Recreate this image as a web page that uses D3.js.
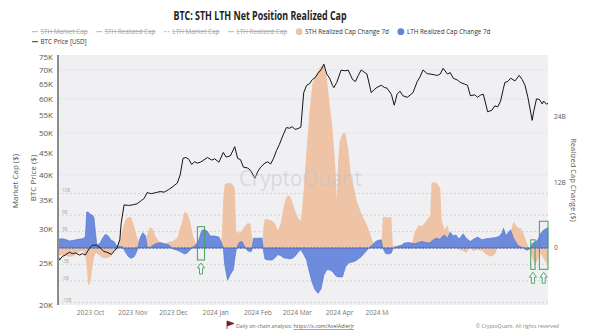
<!DOCTYPE html>
<html>
<head>
<meta charset="utf-8">
<title>BTC: STH LTH Net Position Realized Cap</title>
<script src="https://cdn.jsdelivr.net/npm/d3@7"></script>
<style>
  body { margin: 0; background: #fff; }
  svg text { font-family: "Open Sans", sans-serif; }
</style>
</head>
<body>
<script>
// BTC price (USD)
var priceDates = ["2023-09-10","2023-09-11","2023-09-13","2023-09-15","2023-09-18","2023-09-20","2023-09-22","2023-09-25","2023-09-27","2023-09-29",
  "2023-10-02","2023-10-04","2023-10-07","2023-10-10","2023-10-12","2023-10-14","2023-10-17","2023-10-19","2023-10-21","2023-10-23","2023-10-24","2023-10-26","2023-10-29",
  "2023-11-01","2023-11-04","2023-11-07","2023-11-09","2023-11-11","2023-11-14","2023-11-17","2023-11-20","2023-11-23","2023-11-26","2023-11-29",
  "2023-12-02","2023-12-04","2023-12-06","2023-12-08","2023-12-10","2023-12-12","2023-12-14","2023-12-16","2023-12-18","2023-12-20","2023-12-23","2023-12-26","2023-12-28","2023-12-31",
  "2024-01-03","2024-01-05","2024-01-08","2024-01-11","2024-01-13","2024-01-15","2024-01-17","2024-01-20","2024-01-22","2024-01-25","2024-01-27","2024-01-29",
  "2024-02-01","2024-02-03","2024-02-05","2024-02-07","2024-02-09","2024-02-11","2024-02-14","2024-02-16","2024-02-18","2024-02-20","2024-02-22","2024-02-24","2024-02-26","2024-02-28",
  "2024-03-01","2024-03-03","2024-03-05","2024-03-07","2024-03-09","2024-03-11","2024-03-13","2024-03-15","2024-03-17","2024-03-19","2024-03-20","2024-03-22","2024-03-25","2024-03-28","2024-03-30",
  "2024-04-02","2024-04-04","2024-04-06","2024-04-08","2024-04-10","2024-04-12","2024-04-15","2024-04-17","2024-04-19","2024-04-22","2024-04-24","2024-04-26","2024-04-29",
  "2024-05-01","2024-05-03","2024-05-05","2024-05-07","2024-05-10","2024-05-12","2024-05-14","2024-05-17","2024-05-19","2024-05-21","2024-05-24","2024-05-26","2024-05-29","2024-05-31",
  "2024-06-02","2024-06-04","2024-06-07","2024-06-09","2024-06-11","2024-06-14","2024-06-16","2024-06-19","2024-06-21","2024-06-23","2024-06-26","2024-06-28","2024-06-30",
  "2024-07-02","2024-07-05","2024-07-08","2024-07-10","2024-07-12","2024-07-14","2024-07-16","2024-07-17","2024-07-19","2024-07-21","2024-07-24","2024-07-27","2024-07-29","2024-07-31",
  "2024-08-02","2024-08-05","2024-08-06","2024-08-08","2024-08-10","2024-08-12","2024-08-13","2024-08-15","2024-08-16"];
var btcPrice = [26100,25400,25900,26100,26500,26300,26400,26100,26300,26100,
  27100,27500,27500,27000,26600,26500,26200,26600,27100,28300,31000,34100,34000,
  34100,34300,34900,35300,36400,36200,36400,36600,36500,37000,37600,
  38300,40000,43700,43900,43500,42300,42900,42600,42800,43200,43900,43300,43600,42800,
  45100,44000,44300,46500,43700,43400,41700,41500,41000,39300,40700,41700,
  42600,42900,42400,43700,45500,47000,49800,51500,51300,51700,51000,51200,51600,62000,
  64500,65000,66500,67200,68800,70000,72200,68500,67000,64500,63700,65500,69900,69700,69900,
  66500,65800,68000,70000,69200,68500,62000,63000,63800,64500,63800,63500,61500,
  58000,61500,62500,61000,60500,61200,62000,65800,67500,70000,68600,68500,68200,68000,
  68500,70600,68500,69000,67000,66300,65500,64900,64500,61000,61300,60500,61200,
  61500,56000,56500,57800,57500,59300,63500,65500,65800,67000,66000,68000,66500,64500,
  60500,53500,56000,60000,59800,58400,59300,58300,58600];

// 7d realized cap change, billions USD
var flowDates = ["2023-09-10","2023-09-13","2023-09-16","2023-09-18","2023-09-21","2023-09-24","2023-09-27","2023-09-29","2023-09-30",
  "2023-10-01","2023-10-02","2023-10-03","2023-10-04","2023-10-05","2023-10-06","2023-10-07","2023-10-09","2023-10-11","2023-10-13","2023-10-15","2023-10-17","2023-10-19","2023-10-21","2023-10-23","2023-10-25","2023-10-27","2023-10-29","2023-10-31",
  "2023-11-02","2023-11-04","2023-11-06","2023-11-08","2023-11-10","2023-11-11","2023-11-13","2023-11-15","2023-11-17","2023-11-20","2023-11-23","2023-11-26","2023-11-29",
  "2023-12-02","2023-12-05","2023-12-07","2023-12-09","2023-12-11","2023-12-13","2023-12-15","2023-12-17","2023-12-19","2023-12-21","2023-12-23","2023-12-25","2023-12-28","2023-12-31",
  "2024-01-02","2024-01-03","2024-01-04","2024-01-06","2024-01-08","2024-01-10","2024-01-11","2024-01-12","2024-01-14","2024-01-16","2024-01-18","2024-01-20","2024-01-22","2024-01-23","2024-01-24","2024-01-27","2024-01-30","2024-01-31",
  "2024-02-01","2024-02-03","2024-02-06","2024-02-08","2024-02-10","2024-02-12","2024-02-14","2024-02-16","2024-02-18","2024-02-20","2024-02-22","2024-02-24","2024-02-26","2024-02-28",
  "2024-03-01","2024-03-03","2024-03-05","2024-03-07","2024-03-09","2024-03-11","2024-03-13","2024-03-15","2024-03-17","2024-03-19","2024-03-21","2024-03-22","2024-03-23","2024-03-24","2024-03-26","2024-03-28","2024-03-30",
  "2024-04-01","2024-04-03","2024-04-05","2024-04-08","2024-04-10","2024-04-12","2024-04-14","2024-04-16","2024-04-18","2024-04-20","2024-04-22","2024-04-23","2024-04-25","2024-04-27","2024-04-29","2024-04-30",
  "2024-05-03","2024-05-06","2024-05-08","2024-05-11","2024-05-13","2024-05-15","2024-05-18","2024-05-20","2024-05-23","2024-05-26","2024-05-27","2024-05-30",
  "2024-06-02","2024-06-03","2024-06-05","2024-06-07","2024-06-09","2024-06-11","2024-06-13","2024-06-15","2024-06-18","2024-06-20","2024-06-23","2024-06-25","2024-06-28",
  "2024-07-01","2024-07-04","2024-07-07","2024-07-10","2024-07-13","2024-07-15","2024-07-16","2024-07-18","2024-07-19","2024-07-21","2024-07-23","2024-07-26","2024-07-28","2024-07-30",
  "2024-08-01","2024-08-03","2024-08-05","2024-08-07","2024-08-09","2024-08-11","2024-08-13","2024-08-15","2024-08-16"];
var sthChange = [-1.4,-1.3,-1.5,-1.6,-1.5,-0.8,-0.5,-1.2,-3.5,
  -6.8,-6.6,-5.5,-3.5,-1.8,-1.0,-1.0,-1.4,-1.8,-1.9,-1.8,-1.5,-0.6,0.2,1.5,3.5,5.2,5.7,5.6,
  4.0,2.0,0.5,0.3,0.5,2.5,3.8,3.5,2.0,1.0,0.8,1.1,1.3,
  1.9,4.5,6.6,6.4,4.8,2.2,0.8,0.5,0.4,0.6,0.8,0.5,0.6,0.5,
  2.0,9.0,11.6,11.9,11.9,11.5,11.0,3.0,2.8,3.2,4.0,4.6,4.4,2.0,0.2,0.2,0.2,4.0,
  5.3,5.2,5.0,4.5,3.2,4.5,7.5,9.4,9.6,8.5,6.8,5.5,5.0,10.6,
  18.0,25.0,30.0,31.5,32.6,33.2,33.5,31.3,26.5,22.0,15.0,8.8,16.0,19.5,21.0,21.0,18.0,
  13.0,11.0,8.5,6.4,5.3,4.2,2.8,1.2,0.4,0.3,0.2,5.7,5.7,5.6,5.7,0.5,
  0.3,0.4,0.3,0.4,0.5,2.7,4.2,4.0,4.8,6.0,12.0,12.0,
  11.0,5.1,3.4,4.2,2.0,1.0,0.2,-0.3,-0.5,-0.9,0.2,-0.6,-0.3,
  -0.5,-1.2,-1.6,-1.2,0.8,1.2,1.5,2.0,2.8,3.0,4.8,3.7,3.6,2.6,
  1.1,-0.3,-1.8,-3.1,-2.0,-1.0,-2.0,-2.8,-3.0];
var lthChange = [1.6,1.7,1.5,1.3,1.4,1.6,1.7,2.0,6.6,
  6.6,6.3,6.1,6.0,5.6,3.0,0.6,0.8,1.8,2.5,2.2,1.4,1.2,0.3,0.3,0.2,-0.8,-1.6,-1.9,
  -1.6,-0.5,1.8,2.8,2.2,0.2,0.1,0.5,0.8,1.0,0.8,0.6,-0.2,
  -0.4,-0.8,-1.1,-0.9,-0.3,0.2,0.6,1.5,3.2,3.4,3.0,2.2,2.2,2.0,
  0.8,0.1,-3.0,-5.9,-4.8,-4.0,-2.0,-0.3,1.0,1.2,0.2,-0.5,-0.7,-0.4,1.8,1.8,1.8,-0.5,
  -2.0,-2.2,-2.2,-1.8,-1.2,-1.4,-1.8,-1.9,-2.0,-1.9,-1.5,-0.8,-0.3,-1.2,
  -2.2,-4.5,-6.4,-7.7,-8.3,-7.5,-5.0,-4.0,-4.0,-4.3,-5.0,-5.2,-5.3,-5.3,-5.3,-3.5,-2.8,
  -2.6,-2.5,-2.2,-1.6,-1.0,-0.4,0.2,0.6,1.2,1.4,1.5,0.0,-1.0,-1.1,-0.9,-0.1,
  0.3,0.5,0.9,1.0,0.9,0.8,1.0,1.2,1.0,0.9,1.3,1.8,
  1.6,2.0,2.4,1.8,2.9,2.2,2.4,1.6,2.6,1.8,1.2,1.6,2.0,
  1.5,1.7,1.8,1.9,2.1,2.8,3.6,2.2,2.8,3.3,1.8,0.5,0.2,0.0,
  -0.4,-0.2,0.8,1.1,1.5,2.7,3.3,3.6,3.7];

var priceTicks = [20000,25000,30000,35000,40000,45000,50000,55000,60000,65000,70000,75000];
var priceGrid = [40000,50000,60000,70000];
var changeTicks = [0, 12, 24];
var guideTicks = [-10, -6, -3, 3, 6, 10];
var monthTicks = ["2023-10-01","2023-11-01","2023-12-01","2024-01-01","2024-02-01","2024-03-01","2024-04-01","2024-05-01","2024-06-01","2024-07-01","2024-08-01"];
var legendNames = ["STH Market Cap","STH Realized Cap","LTH Market Cap","LTH Realized Cap","STH Realized Cap Change 7d","LTH Realized Cap Change 7d","BTC Price [USD]"];
// green highlight boxes: date range and value range ($B)
var marked = [
  {from: "2023-12-16", to: "2023-12-21", hi: 3.9, lo: -2.2},
  {from: "2024-08-04", to: "2024-08-07", hi: 1.5, lo: -3.9},
  {from: "2024-08-10", to: "2024-08-16", hi: 4.9, lo: -3.9}
];

var width = 594, height = 332;
var plot = {left: 58, right: 548, top: 55, bottom: 305};
var parse = d3.timeParse("%Y-%m-%d");
var orange = "#efc4a6", blue = "#6283dc", green = "#43a063";

var svg = d3.select("body").append("svg")
  .attr("width", width)
  .attr("height", height);

var prices = priceDates.map(function(d, i) { return {date: parse(d), v: btcPrice[i]}; });
var flows = flowDates.map(function(d, i) { return {date: parse(d), sth: sthChange[i], lth: lthChange[i]}; });

var x = d3.scaleTime()
  .domain(d3.extent(flows, function(d) { return d.date; }))
  .range([plot.left, plot.right]);
// the month labels in the source sit on a slightly tighter spacing than the series
var xLabel = d3.scaleTime().domain(x.domain()).range([62, 526]);
var y = d3.scaleLog().domain([20000, 75800]).range([plot.bottom, plot.top]);
var y2 = d3.scaleLinear().domain([-10.44, 35.35]).range([plot.bottom, plot.top]);

function squeeze(sel, k) {
  sel.each(function() {
    var w = this.getComputedTextLength();
    d3.select(this).attr("textLength", w * k).attr("lengthAdjust", "spacingAndGlyphs");
  });
}

// plot background
svg.append("rect")
  .attr("x", plot.left).attr("y", plot.top)
  .attr("width", plot.right - plot.left).attr("height", plot.bottom - plot.top)
  .attr("fill", "#f0f0f3");

svg.append("g").selectAll("line")
  .data(priceGrid).enter().append("line")
  .attr("x1", plot.left).attr("x2", plot.right)
  .attr("y1", function(d) { return y(d); }).attr("y2", function(d) { return y(d); })
  .attr("stroke", "#e3e4e9").attr("stroke-width", 0.8);

// dashed guides for the change series
var guides = svg.append("g");
guides.selectAll("line")
  .data(guideTicks).enter().append("line")
  .attr("x1", plot.left).attr("x2", plot.right)
  .attr("y1", function(d) { return y2(d); }).attr("y2", function(d) { return y2(d); })
  .attr("stroke", "#c6c7cd").attr("stroke-width", 0.7)
  .attr("stroke-dasharray", "2,2");
guides.selectAll("text")
  .data(guideTicks).enter().append("text")
  .attr("x", 62)
  .attr("y", function(d) { return y2(d) - 1; })
  .attr("font-size", 4.5)
  .attr("fill", "#a8a8ae")
  .text(function(d) { return d + "B"; });

// areas
var sthArea = d3.area()
  .x(function(d) { return x(d.date); })
  .y0(y2(0))
  .y1(function(d) { return y2(d.sth); });
var lthArea = d3.area()
  .x(function(d) { return x(d.date); })
  .y0(y2(0))
  .y1(function(d) { return y2(d.lth); });

svg.append("path").datum(flows)
  .attr("d", sthArea)
  .attr("fill", orange);
svg.append("path").datum(flows)
  .attr("d", lthArea)
  .attr("fill", blue)
  .attr("fill-opacity", 0.92)
  .attr("stroke", "#4d6fd2")
  .attr("stroke-width", 0.6);

svg.append("line")
  .attr("x1", plot.left).attr("x2", plot.right)
  .attr("y1", y2(0)).attr("y2", y2(0))
  .attr("stroke", "#4b5b9c").attr("stroke-width", 1)
  .attr("stroke-dasharray", "2,1.5");

// price line
var priceLine = d3.line()
  .x(function(d) { return x(d.date); })
  .y(function(d) { return y(d.v); });
svg.append("path").datum(prices)
  .attr("d", priceLine)
  .attr("fill", "none")
  .attr("stroke", "#151515")
  .attr("stroke-width", 1);

// watermark
svg.append("text")
  .attr("x", 239).attr("y", 186)
  .attr("font-size", 21)
  .attr("fill", "#c0c2c9")
  .attr("fill-opacity", 0.5)
  .text("CryptoQuant")
  .call(squeeze, 0.97);

// green highlight boxes + arrows
var marks = svg.append("g").selectAll("g")
  .data(marked).enter().append("g");
marks.append("rect")
  .attr("x", function(d) { return x(parse(d.from)); })
  .attr("y", function(d) { return y2(d.hi); })
  .attr("width", function(d) { return x(parse(d.to)) - x(parse(d.from)); })
  .attr("height", function(d) { return y2(d.lo) - y2(d.hi); })
  .attr("fill", "none")
  .attr("stroke", green)
  .attr("stroke-width", 1);
marks.append("path")
  .attr("d", function(d) {
    var cx = (x(parse(d.from)) + x(parse(d.to))) / 2, t = y2(d.lo) + 3;
    return "M" + cx + "," + t + "L" + (cx + 3.5) + "," + (t + 5) + "L" + (cx + 1.5) + "," + (t + 5) +
      "L" + (cx + 1.5) + "," + (t + 11) + "L" + (cx - 1.5) + "," + (t + 11) + "L" + (cx - 1.5) + "," + (t + 5) +
      "L" + (cx - 3.5) + "," + (t + 5) + "Z";
  })
  .attr("fill", "#f4fbf6")
  .attr("stroke", green)
  .attr("stroke-width", 0.9);

// left axis
svg.append("line")
  .attr("x1", plot.left).attr("x2", plot.left)
  .attr("y1", plot.top).attr("y2", plot.bottom)
  .attr("stroke", "#8c8c8c").attr("stroke-width", 2);
svg.append("g").selectAll("text")
  .data(priceTicks).enter().append("text")
  .attr("x", 53)
  .attr("y", function(d) { return y(d); })
  .attr("dy", "0.35em")
  .attr("text-anchor", "end")
  .attr("font-size", 8)
  .attr("fill", "#555")
  .text(function(d) { return d / 1000 + "K"; });

// right axis
svg.append("g").selectAll("text")
  .data(changeTicks).enter().append("text")
  .attr("x", 554)
  .attr("y", function(d) { return y2(d); })
  .attr("dy", "0.35em")
  .attr("font-size", 6.6)
  .attr("fill", "#555")
  .text(function(d) { return d === 0 ? "0" : d + "B"; });

// x axis labels
svg.append("g").selectAll("text")
  .data(monthTicks).enter().append("text")
  .attr("x", function(d) { return xLabel(parse(d)); })
  .attr("y", 315)
  .attr("text-anchor", "middle")
  .attr("font-size", 6.6)
  .attr("fill", "#777")
  .text(function(d) { return d3.timeFormat("%Y %b")(parse(d)); });
// white patch over the later labels, as in the source
svg.append("rect")
  .attr("x", 389).attr("y", 306)
  .attr("width", width - 389).attr("height", 13)
  .attr("fill", "#fff");

// axis titles
svg.append("text")
  .attr("transform", "translate(18,181) rotate(-90)")
  .attr("text-anchor", "middle").attr("font-size", 8).attr("fill", "#555")
  .text("Market Cap ($)");
svg.append("text")
  .attr("transform", "translate(36,178) rotate(-90)")
  .attr("text-anchor", "middle").attr("font-size", 8).attr("fill", "#555")
  .text("BTC Price ($)");
svg.append("text")
  .attr("transform", "translate(571,180) rotate(90)")
  .attr("text-anchor", "middle").attr("font-size", 7.5).attr("fill", "#555")
  .text("Realized Cap Change ($)");

// title
svg.append("text")
  .attr("x", 260).attr("y", 20)
  .attr("text-anchor", "middle")
  .attr("font-size", 12)
  .attr("font-weight", "bold")
  .attr("fill", "#222")
  .text("BTC: STH LTH Net Position Realized Cap")
  .call(squeeze, 0.74);

// legend
var legend = svg.append("g").attr("font-size", 6.8);
var lx = 32, ly = 34;
legendNames.forEach(function(name, i) {
  var off = i < 4, dot = i === 4 || i === 5;
  if (i === 6) { lx = 32; ly = 44; }
  if (dot) {
    legend.append("circle")
      .attr("cx", lx + 3.5).attr("cy", ly - 2.3).attr("r", 3.4)
      .attr("fill", i === 4 ? orange : blue);
    lx += 9.5;
  } else {
    legend.append("line")
      .attr("x1", lx).attr("x2", lx + 6)
      .attr("y1", ly - 2.3).attr("y2", ly - 2.3)
      .attr("stroke", off ? "#aaa" : "#222").attr("stroke-width", 0.9)
      .attr("stroke-dasharray", i === 2 ? "2,1.5" : null);
    lx += 8.5;
  }
  var t = legend.append("text")
    .attr("x", lx).attr("y", ly)
    .attr("fill", off ? "#a5a5a5" : "#333")
    .attr("text-decoration", off ? "line-through" : null)
    .text(name)
    .call(squeeze, 0.93);
  lx += +t.attr("textLength") + 8.5;
});

// footer
svg.append("path")
  .attr("d", "M227,329V321L234,323.5L227,326")
  .attr("fill", "#7d1628").attr("stroke", "#7d1628").attr("stroke-width", 0.8);
var foot = svg.append("text")
  .attr("x", 236).attr("y", 328)
  .attr("font-size", 5.2)
  .attr("fill", "#666");
foot.append("tspan").text("Daily on-chain analysis: ");
foot.append("tspan")
  .attr("fill", "#555")
  .attr("text-decoration", "underline")
  .text("https://x.com/AxelAdlerJr");
svg.append("text")
  .attr("x", 559).attr("y", 328)
  .attr("text-anchor", "end")
  .attr("font-size", 5.2)
  .attr("fill", "#888")
  .text("© CryptoQuant. All rights reserved");
</script>
</body>
</html>
